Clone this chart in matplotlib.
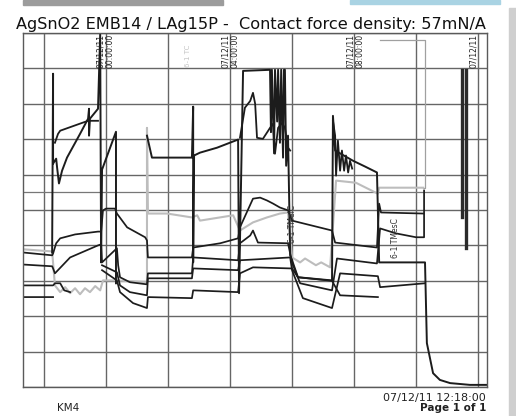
import numpy as np
import matplotlib
matplotlib.use("Agg")
import matplotlib.pyplot as plt
from matplotlib.patches import Rectangle

nan = np.nan

# time in hours from 07/12/11 00:00, value in % of chart span
s1_x = [-1.74, -1.71, -1.71, -1.61, -1.58, -1.52, -1.42, -1.26, -0.84, -0.58, -0.55, -0.55, -0.52,
        -0.26, -0.19, -0.16, -0.13, 0.32, 0.32, nan,
        1.32, 1.48, 2.77, 2.81, 2.81, 2.84, 3.03, 3.58, 4.26, 4.29, 4.42, 5.29, 5.32, 5.35, 5.42,
        5.45, 5.52, 5.55, 5.61, 5.65, 5.71, 5.74, 5.77, 5.81, 5.87, 5.94, 6.0, 6.19, 7.29, 7.32,
        7.39, 7.97, 8.35, 8.74, 8.81, 10.29, 10.35, 10.55, 10.77, 11.10, 11.74, 12.29]
s1_y = [38.0, 88.5, 63.1, 64.5, 62.0, 57.5, 61.1, 64.8, 71.5, 75.8, 78.6, 71.0, 75.8,
        78.6, 99.7, 35.2, 61.4, 72.1, 29.3, nan,
        71.0, 64.8, 64.8, 79.2, 35.2, 65.4, 66.2, 67.6, 69.9, 26.5, 89.3, 89.6, 72.0, 89.6, 66.0,
        89.6, 75.0, 89.6, 69.0, 89.6, 64.8, 89.6, 89.6, 62.5, 71.0, 37.2, 35.8, 31.0, 30.1, 76.6,
        66.8, 63.9, 62.3, 60.6, 35.2, 35.2, 12.4, 3.9, 2.0, 1.1, 0.6, 0.6]

s2_x = [-1.65, -1.55, -1.48, -0.84, -0.58, -0.26, nan,
        4.32, 4.48, 4.65, 4.74, 4.81, 4.87, 5.06, 5.29, 5.39, 5.45, 5.55, 5.68, 5.77, 5.87, 5.94, nan,
        7.32, 7.39, 7.42, 7.48, 7.55, 7.61, 7.68, 7.74, 7.81, 7.87, 7.94]
s2_y = [69.0, 71.5, 72.4, 74.4, 75.2, 75.2, nan,
        70.4, 78.9, 80.8, 83.1, 80.0, 70.4, 70.1, 73.2, 74.4, 65.9, 73.2, 74.6, 73.2, 67.6, 66.8, nan,
        75.2, 71.0, 59.7, 69.6, 61.1, 66.8, 61.1, 65.4, 60.6, 63.9, 61.7]

s3_x = [-2.68, -1.74, -1.71, -1.61, -1.48, -1.0, -0.26, -0.16, -0.10, 0.0, 0.29, 0.35, 0.68, 1.26,
        1.32, 1.35, 2.77, 2.81, 3.68, 4.26, 4.32, 4.74, 4.97, 5.19, 5.39, 5.61, 5.87, 6.0, 7.29,
        7.39, 8.74, 8.81, 8.87, 10.23]
s3_y = [38.0, 37.2, 37.7, 40.6, 42.0, 43.1, 43.9, 43.9, 49.9, 50.4, 50.4, 49.0, 45.1, 42.3,
        41.4, 36.6, 36.6, 39.4, 40.6, 42.0, 45.1, 53.2, 53.5, 52.7, 51.8, 50.7, 49.9, 47.0, 44.2,
        40.8, 39.4, 51.8, 49.3, 49.0]

gray_x = [-2.68, -1.74, -1.65, -1.48, -1.32, -1.16, -1.0, -0.84, -0.68, -0.52, -0.35, -0.19,
          -0.10, 0.35, 1.32, 1.32, 1.35, 1.97, 2.77, 2.94, 3.03, 4.10, 4.32, 4.74, 5.19, 5.61, 5.87,
          6.0, 6.26, 6.42, 6.77, 6.94, 7.23, 7.42, 8.06, 8.77, 8.81, 10.23]
gray_y = [38.9, 38.3, 28.7, 26.8, 28.2, 26.5, 27.9, 26.2, 27.9, 26.8, 28.5, 27.3,
          30.1, 30.1, 29.6, 73.2, 49.0, 49.0, 47.9, 48.5, 47.0, 48.5, 44.2, 46.5, 47.9, 49.0, 49.3,
          36.6, 35.2, 36.3, 34.4, 35.2, 33.8, 58.3, 57.7, 54.6, 56.3, 56.3]

box_x = [10.23, 10.29, 10.29, 8.84]
box_y = [56.3, 56.3, 98.0, 98.0]

l1_x = [-2.68, -1.74, -1.71, -1.65, -1.16, -0.26, -0.16, -0.13, 0.35, 0.39, 0.45, 0.77, 1.32,
        1.35, 2.77, 2.81, 4.26, 4.32, 4.65, 4.74, 4.90, 5.87, 6.0, 6.26, 7.29, 7.45, 8.74,
        8.84, 9.35, 10.0, 10.26, 10.26]
l1_y = [34.6, 34.1, 33.5, 32.1, 36.6, 40.0, 40.3, 35.2, 39.2, 34.4, 31.0, 29.6, 29.0,
        32.1, 32.1, 36.6, 35.8, 40.6, 42.8, 44.2, 40.8, 40.6, 35.2, 29.3, 27.3, 36.3, 34.9,
        44.8, 43.4, 42.3, 42.3, 55.5]

l2_x = [-2.68, -1.71, -1.65, -1.48, -1.35, -1.16, nan, -0.13, 0.35, 0.45, 0.77, 1.32, 1.35, 2.77,
        2.81, 4.26, 4.32, 5.94, 6.0, 6.35, 7.29, 7.55, 8.77, 8.84, 10.29]
l2_y = [28.7, 28.7, 29.3, 29.3, 27.3, 26.8, nan, 34.4, 32.4, 28.7, 26.8, 25.9, 30.7, 30.7,
        33.5, 33.0, 35.8, 36.6, 33.0, 25.1, 22.3, 32.1, 31.3, 28.2, 29.3]

l3_x = [-2.68, -1.71, nan, -0.13, 0.35, 0.45, 0.87, 1.32, 1.35, 2.77, 2.81, 4.26, 4.32, 4.74,
        5.94, 6.0, 6.19, 7.29, 7.55, 8.77]
l3_y = [25.4, 25.4, nan, 33.0, 30.1, 26.8, 23.7, 22.3, 25.4, 25.1, 27.3, 26.8, 32.1, 33.8,
        33.5, 33.5, 31.0, 30.0, 25.9, 25.4]

spike_x = [11.48, 11.48, nan, 11.61, 11.61]
spike_y = [89.6, 47.9, nan, 89.6, 39.4]

time_marks = [-0.19, 3.84, 7.87, 11.87]
time_dates = ["07/12/11", "07/12/11", "07/12/11", "07/12/11"]
time_clock = ["00:00:00", "04:00:00", "08:00:00", ""]

plt.rcParams["font.family"] = ["DejaVu Sans"]

fig = plt.figure(figsize=(5.16, 4.16), dpi=100)
ax = fig.add_axes([23 / 516, 29 / 416, 464 / 516, 354 / 416])
ax.set_xlim(-2.68, 12.29)
ax.set_ylim(0, 100)
ax.set_xticks(range(-2, 13, 2))
ax.set_yticks(range(0, 101, 10))
ax.tick_params(length=0, labelbottom=False, labelleft=False)
ax.grid(color="#666666", lw=1.0)
ax.axhline(55.2, color="#777777", lw=0.9)
for s in ax.spines.values():
    s.set_color("#5a5a5a")
    s.set_linewidth(1.0)

ink = "#1c1c1c"
ax.plot(box_x, box_y, color="#a0a0a0", lw=0.9)
ax.plot(gray_x, gray_y, color="#bdbdbd", lw=1.5)
ax.plot(l3_x, l3_y, color=ink, lw=1.25)
ax.plot(l2_x, l2_y, color=ink, lw=1.25)
ax.plot(l1_x, l1_y, color=ink, lw=1.25)
ax.plot(s3_x, s3_y, color=ink, lw=1.25)
ax.plot(s2_x, s2_y, color=ink, lw=1.3)
ax.plot(s1_x, s1_y, color=ink, lw=1.4)
ax.plot(spike_x, spike_y, color="#2a2a2a", lw=2.4)

for x, d, c in zip(time_marks, time_dates, time_clock):
    ax.text(x, 95, d, rotation=90, fontsize=5.5, ha="center", va="center", color="#222")
    if c:
        ax.text(x + 0.31, 95, c, rotation=90, fontsize=5.5, ha="center", va="center", color="#222")

ax.text(2.65, 93.5, "6-1 TC", rotation=90, fontsize=5, ha="center", va="center", color="#c4c4c4")
ax.text(6.0, 46, "6-1 TMelC", rotation=90, fontsize=5.5, ha="center", va="center", color="#333")
ax.text(9.35, 42, "6-1 TMesC", rotation=90, fontsize=5.5, ha="center", va="center", color="#333")

fig.text(486 / 516, 1 - 25 / 416, "AgSnO2 EMB14 / LAg15P -  Contact force density: 57mN/A",
         fontsize=11.6, ha="right", va="center", color="#111")
fig.text(57 / 516, 1 - 408 / 416, "KM4", fontsize=7.5, ha="left", va="center", color="#222")
fig.text(486 / 516, 1 - 398 / 416, "07/12/11 12:18:00", fontsize=8, ha="right", va="center",
         color="#222")
fig.text(486 / 516, 1 - 408 / 416, "Page 1 of 1", fontsize=7.5, ha="right", va="center",
         color="#222", fontweight="bold")

# scan / screen borders
fig.patches.append(Rectangle((23 / 516, 411 / 416), 200 / 516, 5 / 416, transform=fig.transFigure,
                             color="#9c9c9c", zorder=0))
fig.patches.append(Rectangle((350 / 516, 412 / 416), 150 / 516, 4 / 416, transform=fig.transFigure,
                             color="#a9d3e3", zorder=0))
fig.patches.append(Rectangle((509 / 516, 0), 7 / 516, 408 / 416, transform=fig.transFigure,
                             color="#cfcfcf", zorder=0))

fig.savefig("out.png", dpi=100)
